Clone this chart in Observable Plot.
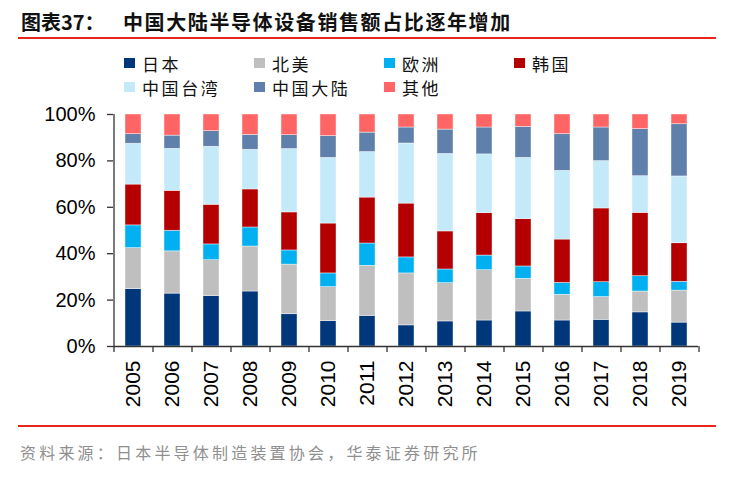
<!DOCTYPE html>
<html>
<head>
<meta charset="utf-8">
<script src="https://cdn.jsdelivr.net/npm/d3@7"></script>
<script src="https://cdn.jsdelivr.net/npm/@observablehq/plot@0.6"></script>
<style>
  html, body { margin: 0; padding: 0; background: #fff; }
  #page { position: relative; width: 729px; height: 483px; overflow: hidden; font-family: "Noto Sans CJK SC", sans-serif; }
  .title { position: absolute; top: 9px; font-size: 20px; font-weight: 700; color: #111; white-space: nowrap; line-height: 26px; }
  .redline { position: absolute; left: 18px; width: 698px; height: 2px; background: #e8261a; }
  .legend-item { position: absolute; height: 24px; display: flex; align-items: center; white-space: nowrap; }
  .legend-item .sw { width: 11px; height: 10px; margin-right: 7px; }
  .legend-item .lb { font-size: 17px; letter-spacing: 2.6px; color: #111; }
  #chart { position: absolute; left: 0; top: 100px; }
  .source { position: absolute; left: 20px; top: 440px; font-size: 16px; letter-spacing: 3.2px; color: #8f8f8f; white-space: nowrap; line-height: 24px; }
</style>
</head>
<body>
<div id="page">
  <div class="title" style="left:21px">图表37：</div>
  <div class="title" style="left:123px; letter-spacing:1.6px">中国大陆半导体设备销售额占比逐年增加</div>
  <div class="redline" style="top:37px"></div>
  <div id="legend"></div>
  <div id="chart"></div>
  <div class="redline" style="top:425px"></div>
  <div class="source">资料来源：日本半导体制造装置协会，华泰证券研究所</div>
</div>
<script>
// Share of semiconductor equipment sales by region, % of total
const years = ["2005","2006","2007","2008","2009","2010","2011","2012","2013","2014","2015","2016","2017","2018","2019"];
const regions = ["日本", "北美", "欧洲", "韩国", "中国台湾", "中国大陆", "其他"];
const colors = ["#00377a", "#bfbfbf", "#00b0f0", "#b40000", "#c4eafa", "#5f80ab", "#ff6565"];

const japan        = [24.7, 22.8, 21.7, 23.7, 13.9, 10.9, 13.2,  9.1, 10.8, 11.2, 15.1, 11.2, 11.5, 14.7, 10.3];
const northAmerica = [17.7, 18.2, 15.5, 19.4, 21.4, 14.7, 21.6, 22.4, 16.5, 21.7, 14.1, 11.1,  9.8,  9.0, 13.8];
const europe       = [ 9.8,  8.9,  6.8,  8.2,  6.1,  5.9,  9.6,  6.9,  5.9,  6.3,  5.3,  5.1,  6.4,  6.6,  3.8];
const korea        = [17.6, 17.2, 17.1, 16.4, 16.4, 21.5, 19.8, 23.2, 16.4, 18.3, 20.4, 18.7, 31.8, 27.3, 16.6];
const taiwan       = [17.6, 18.1, 25.0, 17.1, 27.3, 28.3, 19.6, 25.9, 33.4, 25.3, 26.4, 29.6, 20.4, 15.8, 28.8];
const mainland     = [ 4.1,  5.7,  6.7,  6.4,  6.0,  9.4,  8.4,  6.9, 10.5, 11.6, 13.4, 15.8, 14.5, 20.3, 22.5];
const other        = [ 8.5,  9.1,  7.2,  8.8,  8.9,  9.3,  7.8,  5.6,  6.5,  5.6,  5.3,  8.5,  5.6,  6.3,  4.2];
const yTicks = [0, 20, 40, 60, 80, 100];

const series = [japan, northAmerica, europe, korea, taiwan, mainland, other];
const rows = [];
years.forEach((year, i) => {
  regions.forEach((region, k) => rows.push({year, region, value: series[k][i]}));
});

// Legend: four columns, two rows
const legendCols = [124, 254, 384, 514];
const legendRows = [51, 75];
const legend = document.getElementById("legend");
regions.forEach((r, i) => {
  const item = document.createElement("div");
  item.className = "legend-item";
  item.style.left = legendCols[i % 4] + "px";
  item.style.top = legendRows[Math.floor(i / 4)] + "px";
  item.innerHTML = `<span class="sw" style="background:${colors[i]}"></span><span class="lb">${r}</span>`;
  legend.appendChild(item);
});

const W = 729, H = 320, ML = 113, MR = 31, MT = 14, MB = 74;
const step = (W - ML - MR) / years.length;
const axisColor = "#333";

const chart = Plot.plot({
  width: W,
  height: H,
  marginLeft: ML,
  marginRight: MR,
  marginTop: MT,
  marginBottom: MB,
  style: {fontFamily: "'Liberation Sans', Arial, sans-serif", color: "#000", background: "transparent"},
  x: {domain: years, paddingInner: 0.6, paddingOuter: 0.3, label: null, axis: null},
  y: {domain: [0, 100], label: null, axis: null},
  color: {domain: regions, range: colors},
  marks: [
    Plot.barY(rows, {x: "year", y: "value", fill: "region", order: regions, stroke: "#fff", strokeWidth: 0.6, strokeOpacity: 0.7}),
    Plot.ruleX([years[0]], {dx: -step / 2, y1: 0, y2: 100, stroke: axisColor, strokeWidth: 1.3}),
    Plot.ruleY([0], {stroke: axisColor, strokeWidth: 1.3}),
    Plot.axisY({ticks: yTicks, tickFormat: d => d + "%", tickSize: 6, tickPadding: 12, fontSize: 20, stroke: axisColor, strokeWidth: 1.3}),
    Plot.axisX({tickSize: 6, tickFormat: () => "", dx: -step / 2, stroke: axisColor, strokeWidth: 1.3}),
    Plot.axisX({ticks: [years[years.length - 1]], tickSize: 6, tickFormat: () => "", dx: step / 2, stroke: axisColor, strokeWidth: 1.3}),
    Plot.axisX({tickSize: 0, tickRotate: -90, tickPadding: 14, fontSize: 21})
  ]
});
document.getElementById("chart").appendChild(chart);
</script>
</body>
</html>
